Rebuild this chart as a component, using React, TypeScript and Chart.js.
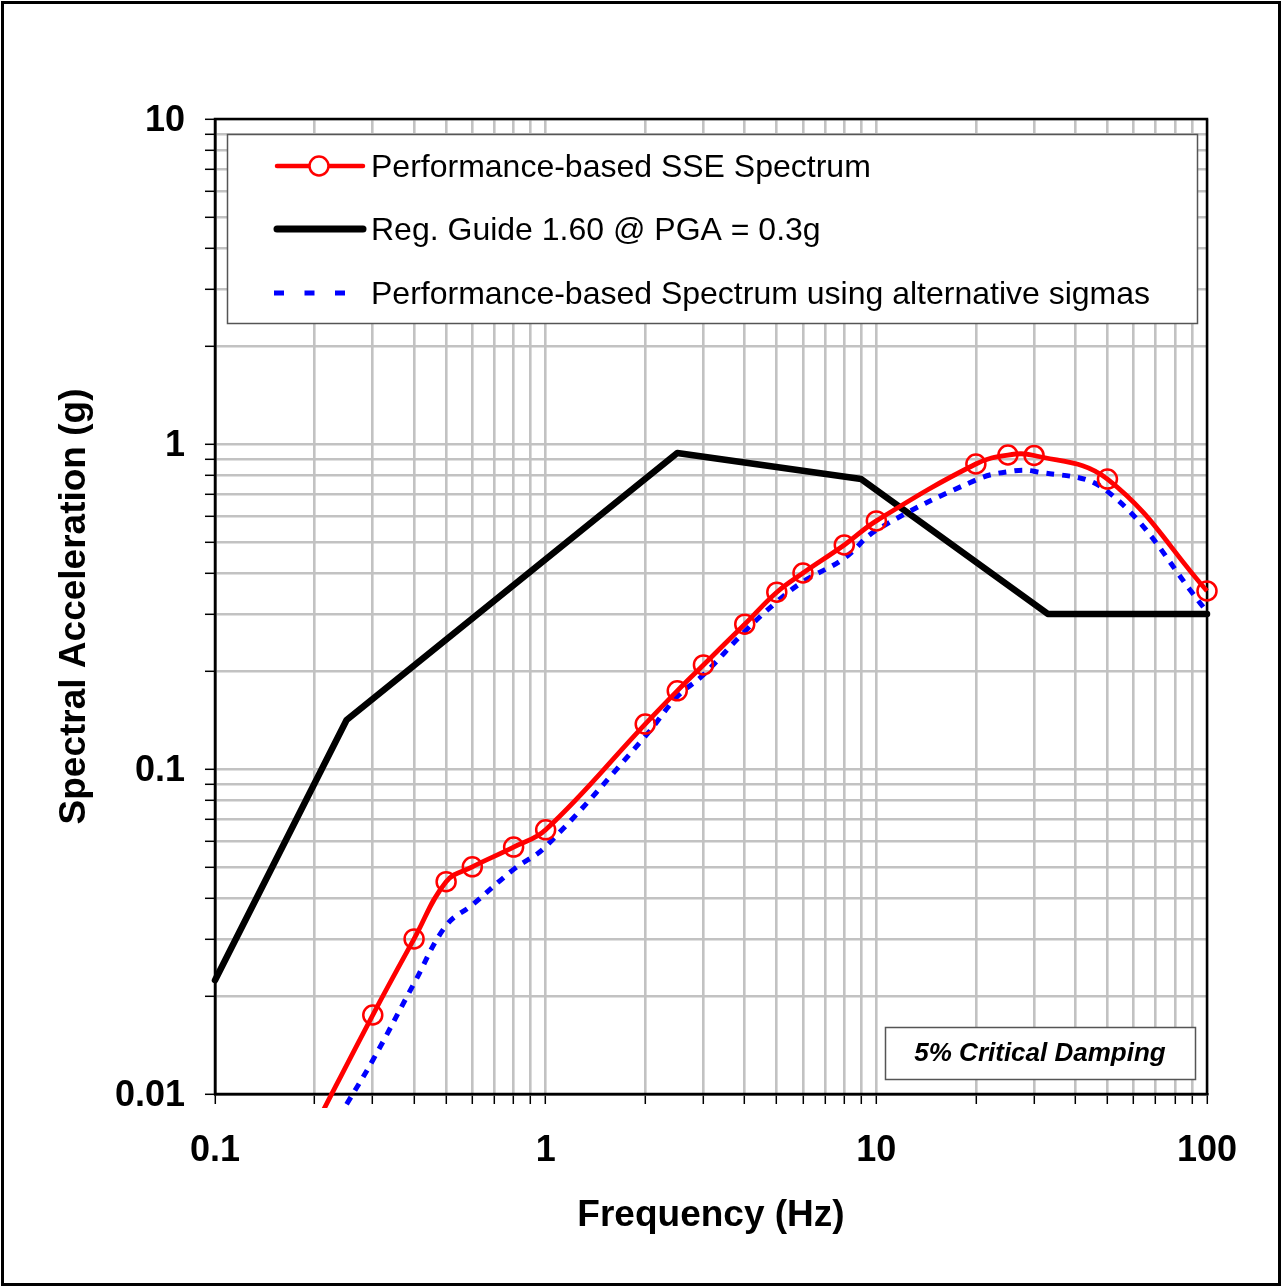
import React, { useEffect, useRef } from 'react';
import { Chart, registerables } from 'chart.js';

Chart.register(...registerables);

// ---- data ----
const FREQ_SSE = [0.2, 0.3, 0.4, 0.5, 0.6, 0.8, 1, 2, 2.5, 3, 4, 5, 6, 8, 10, 20, 25, 30, 50, 100];
const SA_SSE = [0.0079, 0.0175, 0.030, 0.045, 0.050, 0.0575, 0.065, 0.1375, 0.174, 0.209, 0.279, 0.350, 0.401, 0.489, 0.580, 0.868, 0.925, 0.922, 0.780, 0.353];

const FREQ_RG = [0.1, 0.25, 2.5, 9, 33, 100];
const SA_RG = [0.0224, 0.1415, 0.938, 0.78, 0.3, 0.3];

const FREQ_ALT = [0.25, 0.3, 0.4, 0.5, 0.6, 0.8, 1, 2, 2.5, 3, 4, 5, 6, 8, 10, 20, 25, 30, 50, 100];
const SA_ALT = [0.0093, 0.0127, 0.0219, 0.0330, 0.0382, 0.0491, 0.0577, 0.126, 0.167, 0.195, 0.265, 0.327, 0.377, 0.445, 0.543, 0.775, 0.822, 0.824, 0.715, 0.305];

const SERIES_LABELS = [
  'Performance-based SSE Spectrum',
  'Reg. Guide 1.60 @ PGA = 0.3g',
  'Performance-based Spectrum using alternative sigmas',
];

const X_TICK_LABELS = ['0.1', '1', '10', '100'];
const Y_TICK_LABELS = ['0.01', '0.1', '1', '10'];
const X_TITLE = 'Frequency (Hz)';
const Y_TITLE = 'Spectral Acceleration (g)';
const NOTE_TEXT = '5% Critical Damping';

const MULTS = [1, 2, 3, 4, 5, 6, 7, 8, 9];
function logTicks(minExp: number, maxExp: number): number[] {
  const out: number[] = [];
  for (let e = minExp; e < maxExp; e++) {
    for (const m of MULTS) out.push(parseFloat((m * Math.pow(10, e)).toPrecision(6)));
  }
  out.push(parseFloat(Math.pow(10, maxExp).toPrecision(6)));
  return out;
}
const X_TICKS = logTicks(-1, 2);
const Y_TICKS = logTicks(-2, 1);

const FONT = '"Liberation Sans", Arial, Helvetica, sans-serif';
const W = 1282;
const H = 1287;

const framePlugin = {
  id: 'frame',
  beforeDatasetsDraw(chart: any) {
    const { ctx, chartArea: a } = chart;
    ctx.save();
    ctx.strokeStyle = '#000';
    ctx.lineWidth = 2.5;
    ctx.strokeRect(a.left, a.top, a.right - a.left, a.bottom - a.top);
    ctx.restore();
  },
  afterDraw(chart: any) {
    const { ctx } = chart;
    ctx.save();
    ctx.strokeStyle = '#000';
    ctx.lineWidth = 3;
    ctx.strokeRect(2.5, 2.5, W - 5, H - 5);
    ctx.restore();
  },
};

const legendPlugin = {
  id: 'boxLegend',
  afterDatasetsDraw(chart: any) {
    const { ctx } = chart;
    const ds = chart.data.datasets;
    ctx.save();
    // legend box
    const bx = 227, by = 134, bw = 970, bh = 189;
    ctx.fillStyle = '#fff';
    ctx.fillRect(bx, by, bw, bh);
    ctx.strokeStyle = '#555';
    ctx.lineWidth = 1.5;
    ctx.strokeRect(bx + 0.5, by + 0.5, bw, bh);
    const rows = [166, 229, 293];
    const x0 = 277, x1 = 363;
    ds.forEach((d: any, i: number) => {
      const y = rows[i];
      ctx.save();
      ctx.strokeStyle = d.borderColor;
      ctx.lineCap = i === 2 ? 'butt' : 'round';
      if (i === 0) {
        ctx.lineWidth = 4.5;
        ctx.beginPath(); ctx.moveTo(x0, y); ctx.lineTo(x1, y); ctx.stroke();
        ctx.fillStyle = '#fff';
        ctx.lineWidth = 2.5;
        ctx.beginPath(); ctx.arc(319, y, 9.5, 0, Math.PI * 2); ctx.fill(); ctx.stroke();
      } else if (i === 1) {
        ctx.lineWidth = 7;
        ctx.beginPath(); ctx.moveTo(x0, y); ctx.lineTo(x1, y); ctx.stroke();
      } else {
        ctx.lineWidth = 5;
        ctx.setLineDash([10, 20.5]);
        ctx.beginPath(); ctx.moveTo(274, y); ctx.lineTo(350, y); ctx.stroke();
      }
      ctx.restore();
      ctx.fillStyle = '#000';
      ctx.font = `32px ${FONT}`;
      ctx.textAlign = 'left';
      ctx.textBaseline = 'middle';
      ctx.fillText(d.label, 371, y + 2);
    });
    // damping note
    const nx = 885, ny = 1027, nw = 310, nh = 52;
    ctx.fillStyle = '#fff';
    ctx.fillRect(nx, ny, nw, nh);
    ctx.strokeStyle = '#555';
    ctx.lineWidth = 1.5;
    ctx.strokeRect(nx + 0.5, ny + 0.5, nw, nh);
    ctx.fillStyle = '#000';
    ctx.font = `italic bold 26px ${FONT}`;
    ctx.textAlign = 'center';
    ctx.textBaseline = 'middle';
    ctx.fillText(NOTE_TEXT, nx + nw / 2, ny + nh / 2 + 1);
    ctx.restore();
  },
};

export default function App() {
  const ref = useRef<HTMLCanvasElement | null>(null);

  useEffect(() => {
    document.body.style.margin = '0';
    const canvas = ref.current;
    if (!canvas) return;
    const toPts = (xs: number[], ys: number[]) => xs.map((x, i) => ({ x, y: ys[i] }));
    const clip = { left: 6, top: 0, right: 12, bottom: 14 };
    const tickFont = { family: FONT, size: 36, weight: 'bold' as const };
    const titleFont = { family: FONT, size: 37, weight: 'bold' as const };
    const gridOpts = { color: '#c2c2c2', lineWidth: 2.6, tickColor: '#000', tickLength: 10, tickWidth: 1.5 };

    const chart = new Chart(canvas, {
      type: 'line',
      data: {
        datasets: [
          {
            label: SERIES_LABELS[0],
            data: toPts(FREQ_SSE, SA_SSE),
            borderColor: '#ff0000',
            backgroundColor: 'rgba(0,0,0,0)',
            borderWidth: 4.8,
            tension: 0.4,
            pointStyle: 'circle',
            pointRadius: (c: any) => (c.dataIndex === 0 ? 0 : 9.5),
            pointBorderWidth: 2.5,
            pointBorderColor: '#ff0000',
            pointBackgroundColor: 'rgba(0,0,0,0)',
            borderJoinStyle: 'round',
            clip,
            order: 1,
          },
          {
            label: SERIES_LABELS[1],
            data: toPts(FREQ_RG, SA_RG),
            borderColor: '#000000',
            backgroundColor: 'rgba(0,0,0,0)',
            borderWidth: 6.5,
            tension: 0,
            pointRadius: 0,
            borderJoinStyle: 'round',
            borderCapStyle: 'round',
            clip,
            order: 3,
          },
          {
            label: SERIES_LABELS[2],
            data: toPts(FREQ_ALT, SA_ALT),
            borderColor: '#0000ff',
            backgroundColor: 'rgba(0,0,0,0)',
            borderWidth: 5,
            borderDash: [8, 8],
            tension: 0.4,
            pointRadius: 0,
            clip,
            order: 2,
          },
        ],
      },
      options: {
        animation: false,
        responsive: false,
        devicePixelRatio: 1,
        layout: { padding: { left: 0, top: 119, right: 75, bottom: 0 } },
        plugins: { legend: { display: false }, tooltip: { enabled: false } },
        scales: {
          x: {
            type: 'logarithmic',
            min: 0.1,
            max: 100,
            afterBuildTicks: (s: any) => {
              s.ticks = X_TICKS.map((v) => ({ value: v }));
            },
            afterFit: (s: any) => {
              s.height = H - 1094;
            },
            ticks: {
              autoSkip: false,
              maxRotation: 0,
              minRotation: 0,
              padding: 25,
              color: '#000',
              font: tickFont,
              callback: (v: any) => {
                const s = String(v);
                return X_TICK_LABELS.includes(s) ? s : '';
              },
            },
            grid: gridOpts,
            border: { color: '#000', width: 2.5 },
            title: {
              display: true,
              text: X_TITLE,
              color: '#000',
              font: titleFont,
              padding: { top: 0, bottom: 49 },
            },
          },
          y: {
            type: 'logarithmic',
            min: 0.01,
            max: 10,
            afterBuildTicks: (s: any) => {
              s.ticks = Y_TICKS.map((v) => ({ value: v }));
            },
            afterFit: (s: any) => {
              s.width = 215;
            },
            ticks: {
              autoSkip: false,
              padding: 20,
              labelOffset: 2,
              color: '#000',
              font: tickFont,
              callback: (v: any) => {
                const s = String(v);
                return Y_TICK_LABELS.includes(s) ? s : '';
              },
            },
            grid: gridOpts,
            border: { color: '#000', width: 2.5 },
            title: {
              display: true,
              text: Y_TITLE,
              color: '#000',
              font: titleFont,
              padding: { top: 53, bottom: 0 },
            },
          },
        },
      },
      plugins: [framePlugin, legendPlugin],
    } as any);

    return () => chart.destroy();
  }, []);

  return (
    <div style={{ position: 'absolute', left: 0, top: 0, width: W, height: H, background: '#fff' }}>
      <canvas ref={ref} width={W} height={H} style={{ display: 'block', width: W, height: H }} />
    </div>
  );
}
